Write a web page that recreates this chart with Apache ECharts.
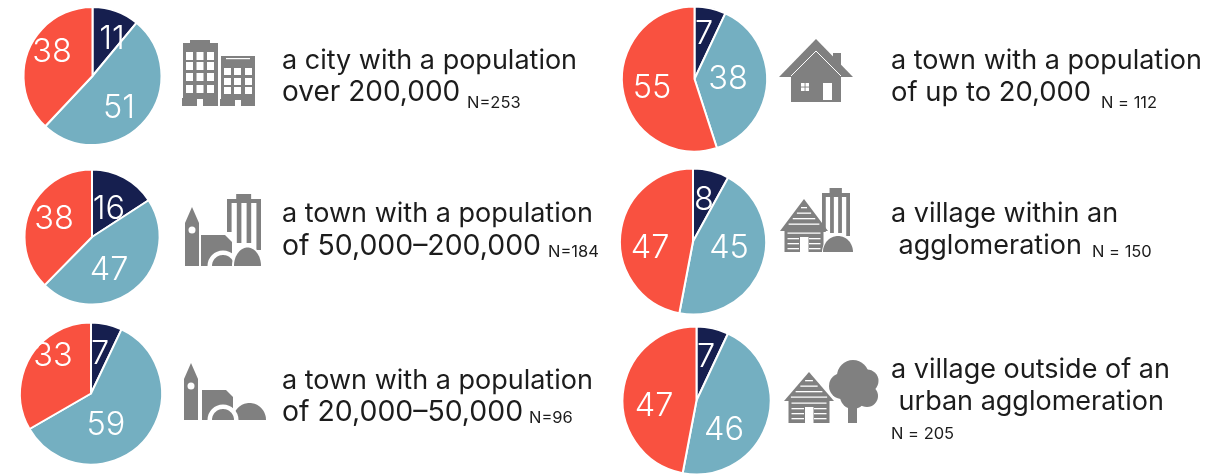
<!DOCTYPE html>
<html>
<head>
<meta charset="utf-8">
<script src="https://cdn.jsdelivr.net/npm/echarts@6/dist/echarts.min.js"></script>
<style>
  html, body { margin: 0; padding: 0; background: #fff; }
  #chart { width: 1230px; height: 476px; }
</style>
</head>
<body>
<div id="chart"></div>
<script>
var categories = [
  ['a city with a population', 'over 200,000'],
  ['a town with a population', 'of 50,000–200,000'],
  ['a town with a population', 'of 20,000–50,000'],
  ['a town with a population', 'of up to 20,000'],
  ['a village within an', ' agglomeration'],
  ['a village outside of an', ' urban agglomeration']
]
var sampleLabels = ['N=253', 'N=184', 'N=96', 'N = 112', 'N = 150', 'N = 205']
var darkValues = [11, 16, 7, 7, 8, 7]
var blueValues = [51, 47, 59, 38, 45, 46]
var redValues = [38, 38, 33, 55, 47, 47]

var seriesNames = ['dark', 'blue', 'red']
var colors = ['#161f4f', '#74afc1', '#f95140']
var iconGray = '#808080'
var textColor = '#1c1c1c'
var fontName = 'Inter, "Noto Sans", sans-serif'

// pie placement and label spots, [dark, blue, red]
var pieBoxes = [
  { center: [92.5, 76], r: 69, labels: [[112, 37], [119, 106], [52, 50]] },
  { center: [92, 237], r: 67.5, labels: [[109, 207], [109, 268], [54, 217]] },
  { center: [91, 393.5], r: 71, labels: [[100, 352], [106, 423], [53, 354]] },
  { center: [694.5, 79], r: 72.5, labels: [[704, 32], [728, 77], [652, 86]] },
  { center: [693, 241.5], r: 73, labels: [[704, 198], [729, 246], [650, 246]] },
  { center: [696.5, 400.5], r: 74, labels: [[706, 355], [724, 428], [654, 404]] }
]
// text placement: line 1 y, line 2 y, N x, N y, size of line 2 (digits run wide in the original)
var textBoxes = [
  { x: 282, y1: 61, y2: 93, nx: 467, ny: 103, size2: 28 },
  { x: 282, y1: 214, y2: 246, nx: 548, ny: 252, size2: 28.4 },
  { x: 282, y1: 381, y2: 412, nx: 529, ny: 418, size2: 28.4 },
  { x: 891, y1: 61, y2: 93, nx: 1101, ny: 103, size2: 27.4 },
  { x: 891, y1: 214, y2: 246, nx: 1092, ny: 252, size2: 27 },
  { x: 891, y1: 370, y2: 402, nx: 891, ny: 434, size2: 27 }
]

// small helpers for the icons
function rect(x, y, w, h, fill) {
  return { type: 'rect', silent: true, shape: { x: x, y: y, width: w, height: h }, style: { fill: fill || iconGray } }
}
function poly(points, fill) {
  return { type: 'polygon', silent: true, shape: { points: points }, style: { fill: fill || iconGray } }
}
function circle(cx, cy, r, fill) {
  return { type: 'circle', silent: true, shape: { cx: cx, cy: cy, r: r }, style: { fill: fill || iconGray } }
}
function dome(cx, base, rx, ry, fill) {
  var points = []
  for (var i = 0; i <= 40; i++) {
    var a = Math.PI * i / 40
    points.push([cx - rx * Math.cos(a), base - ry * Math.sin(a)])
  }
  return poly(points, fill)
}

function tower(x, tipY, shoulderY, bottom, windowY) {
  return [
    poly([[x, bottom], [x, shoulderY], [x + 7, tipY], [x + 14, shoulderY], [x + 14, bottom]]),
    circle(x + 7, windowY, 3.5, '#fff')
  ]
}
function skyscraper(x, y, w, legs) {
  var list = [rect(x + w * 0.27, y - 5, w * 0.44, 6), rect(x, y, w, 4)]
  var lw = w * 0.135
  legs.forEach(function(bottom, i) {
    list.push(rect(x + (w - lw) * i / 3, y, lw, bottom - y))
  })
  return list
}
function logHouse(peakX, peakY, eaveY, bottom, halfRoof, halfBody) {
  var list = [
    poly([[peakX - halfRoof, eaveY], [peakX, peakY], [peakX + halfRoof, eaveY]]),
    rect(peakX - halfBody, eaveY, halfBody * 2, bottom - eaveY)
  ]
  var h = eaveY - peakY
  for (var yy = peakY + 8; yy < eaveY - 2; yy += 5.5) {
    var half = halfRoof * (yy - peakY) / h - 3
    list.push(rect(peakX - half, yy, half * 2, 1.3, '#fff'))
  }
  list.push(rect(peakX - halfBody + 3, eaveY + 1.5, halfBody * 2 - 6, 1.3, '#fff'))
  for (var j = 0; j < 3; j++) {
    var rowY = eaveY + 7 + j * 5
    list.push(rect(peakX - halfBody + 3, rowY, halfBody - 8, 1.3, '#fff'))
    list.push(rect(peakX + 5, rowY, halfBody - 8, 1.3, '#fff'))
  }
  list.push(rect(peakX - 4, eaveY + 6, 8.5, bottom - eaveY - 6, '#fff'))
  return list
}

function officeIcon() {
  var list = [
    rect(190, 40, 20, 5), rect(183, 43, 35, 56),
    rect(221, 56, 34, 44),
    rect(182, 98, 15, 8), rect(203, 98, 15, 8),
    rect(220, 99, 15, 7), rect(241, 99, 14, 7),
    rect(226, 58, 24, 1.2, '#fff')
  ]
  ;[52, 62, 73, 85].forEach(function(y) {
    ;[186, 196.5, 207].forEach(function(x) { list.push(rect(x, y, 7, 8, '#fff')) })
  })
  ;[68, 78, 87].forEach(function(y) {
    ;[224, 234, 245].forEach(function(x) { list.push(rect(x, y, 7, 7, '#fff')) })
  })
  return list
}
function townBigIcon() {
  return [].concat(
    tower(185, 207, 223, 266, 230),
    skyscraper(227, 199, 34, [232, 243, 243, 250]),
    [
      poly([[201, 266], [201, 235], [225, 235], [232, 242], [232, 266]]),
      circle(223, 266, 15.5, '#fff'),
      dome(223, 266, 11, 11),
      dome(247.5, 266, 15.5, 20, '#fff'),
      dome(247.5, 266, 13.5, 18.5),
      rect(180, 266.5, 90, 18, '#fff')
    ]
  )
}
function townSmallIcon() {
  return [].concat(
    tower(184, 363, 379, 420, 386),
    [
      poly([[202, 420], [202, 390], [226, 390], [233, 397], [233, 420]]),
      dome(249.5, 420, 16.5, 17),
      circle(223, 420, 15.5, '#fff'),
      dome(223, 420, 11, 11),
      rect(180, 420.5, 90, 18, '#fff')
    ]
  )
}
function houseIcon() {
  return [
    rect(833, 53, 8, 16),
    poly([[779, 77], [816, 39], [853, 77]]),
    { type: 'polyline', silent: true, shape: { points: [[791, 76], [816, 51], [841, 76]] }, style: { stroke: '#fff', lineWidth: 1, fill: 'none' } },
    rect(791, 77, 50, 25),
    rect(801, 83, 8, 8, '#fff'),
    rect(804.6, 83, 0.9, 8),
    rect(801, 86.6, 8, 0.9),
    rect(823, 83, 9, 17, '#fff')
  ]
}
function villageTownIcon() {
  return [].concat(
    skyscraper(822, 193, 28, [232, 233, 233, 236]),
    logHouse(804, 199, 231, 252, 24, 19.5),
    [dome(838, 252.5, 16, 17, '#fff'), dome(838, 252, 15, 16)]
  )
}
function villageTreeIcon() {
  return [].concat(
    logHouse(809, 372, 401, 423, 25, 20.5),
    [
      rect(848, 392, 9, 31),
      circle(853, 376, 16), circle(842, 386, 13), circle(867, 381, 11.5),
      circle(867, 396, 11), circle(853, 396, 13)
    ]
  )
}

var seriesList = pieBoxes.map(function(box, p) {
  var values = [darkValues[p], blueValues[p], redValues[p]]
  return {
    type: 'pie',
    center: box.center,
    radius: [0, box.r],
    startAngle: 90,
    clockwise: true,
    animation: false,
    silent: true,
    itemStyle: { borderColor: '#fff', borderWidth: 2 },
    label: {
      show: true,
      position: 'inside',
      formatter: '{c}',
      color: '#fff',
      fontFamily: fontName,
      fontWeight: 300,
      fontSize: 32.5
    },
    labelLine: { show: false },
    labelLayout: function(params) {
      var spot = box.labels[params.dataIndex]
      return { x: spot[0], y: spot[1] + 2, align: 'center', verticalAlign: 'middle' }
    },
    data: values.map(function(v, i) {
      return { name: seriesNames[i], value: v, itemStyle: { color: colors[i] } }
    })
  }
})

var textItems = []
textBoxes.forEach(function(box, i) {
  textItems.push({ type: 'text', silent: true, x: box.x, y: box.y1, style: { text: categories[i][0], fill: textColor, font: '400 27px ' + fontName, textVerticalAlign: 'middle' } })
  textItems.push({ type: 'text', silent: true, x: box.x, y: box.y2, style: { text: categories[i][1], fill: textColor, font: '400 ' + box.size2 + 'px ' + fontName, textVerticalAlign: 'middle' } })
  textItems.push({ type: 'text', silent: true, x: box.nx, y: box.ny, style: { text: sampleLabels[i], fill: textColor, font: '400 16.5px ' + fontName, textVerticalAlign: 'middle' } })
})

var myChart = echarts.init(document.getElementById('chart'), null, { renderer: 'canvas' })
myChart.setOption({
  animation: false,
  backgroundColor: '#fff',
  series: seriesList,
  graphic: {
    elements: [].concat(
      officeIcon(), townBigIcon(), townSmallIcon(),
      houseIcon(), villageTownIcon(), villageTreeIcon(),
      textItems
    )
  }
})
</script>
</body>
</html>
